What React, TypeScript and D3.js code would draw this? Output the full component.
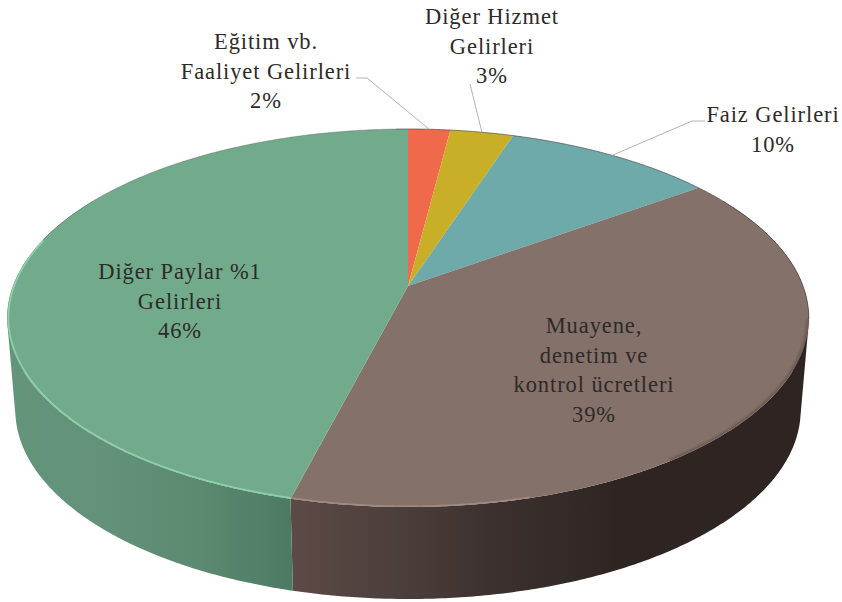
import React from "react";
import * as d3 from "d3";

const categories = ["Eğitim vb. Faaliyet Gelirleri", "Diğer Hizmet Gelirleri", "Faiz Gelirleri", "Muayene, denetim ve kontrol ücretleri", "Diğer Paylar %1 Gelirleri"];
const values = [2, 3, 10, 39, 46];
const topColors = ["#f0694a", "#c9af28", "#6daaa9", "#84716a", "#72ab8c"];
const labelLines = [
  ["Eğitim vb.", "Faaliyet Gelirleri", "2%"],
  ["Diğer Hizmet", "Gelirleri", "3%"],
  ["Faiz Gelirleri", "10%"],
  ["Muayene,", "denetim ve", "kontrol ücretleri", "39%"],
  ["Diğer Paylar %1", "Gelirleri", "46%"],
];
const labelAnchors: [number, number][] = [[266, 49], [492, 24], [773, 122], [594, 333], [180, 279]];
const leaderStarts: ([number, number][] | null)[] = [
  [[356, 78], [367, 78]],
  [[470, 84]],
  [[705, 121], [692, 121]],
  null,
  null,
];
const greenSideX = [10, 100, 200, 290];
const greenSideC = ["#62957a", "#64917a", "#5b8a70", "#4d7a63"];
const brownSideX = [290, 400, 500, 620, 810];
const brownSideC = ["#5c4a45", "#4c3e3b", "#3b302e", "#2e2523", "#2e2523"];

type Plane = { x: number; y: number; a: number; b: number };
const k = 0.1693;
const topPlane: Plane = { x: 408, y: 286, a: 395, b: 183.6 };
const botPlane: Plane = { x: 408, y: 378, a: 387, b: 183.6 };
const project = (p: Plane, t: number, r = 1): [number, number] => {
  const u = r * Math.sin(t);
  const v = r * Math.cos(t);
  const d = 1 + k * v;
  return [p.x + (p.a * u) / d, p.y - (p.b * v) / d];
};

const arcs = d3.pie<number>().sort(null).value((d) => d)(values);
const line = d3.line();
const STEP = Math.PI / 360;
const samples = (a: number, b: number) => {
  const n = Math.max(1, Math.ceil((b - a) / STEP));
  return d3.range(n + 1).map((i) => a + ((b - a) * i) / n);
};
const wedge = (a: number, b: number) => {
  const pts = samples(a, b).map((t) => project(topPlane, t));
  return line([[topPlane.x, topPlane.y], ...pts]) + "Z";
};
const deg = (d: number) => (d * Math.PI) / 180;

// The side wall of a wedge: the top arc swept down to the bottom arc, as one path of
// quads that all wind the same way, so that they add up under the nonzero fill rule.
const side = (a: number, b: number) => {
  const ts = samples(a, b);
  return ts.slice(0, -1).map((t, i) => {
    const t2 = ts[i + 1];
    const q: [number, number][] = [project(topPlane, t), project(topPlane, t2), project(botPlane, t2), project(botPlane, t)];
    return line(d3.polygonArea(q) < 0 ? q.reverse() : q) + "Z";
  }).join("");
};
const xAt = (xs: number[], i: number) => (xs[i] - xs[0]) / (xs[xs.length - 1] - xs[0]);

const brownEnd = arcs[3].endAngle;
const rim = (a: number, b: number) => line(samples(a, b).map((t) => project(topPlane, t, 0.997))) as string;
const outer = (a: number, b: number) => line(samples(a, b).map((t) => project(topPlane, t))) as string;

export default function App() {
  return (
    <svg width={842} height={602} viewBox="0 0 842 602" style={{ position: "absolute", left: 0, top: 0, background: "#fff" }}>
      <defs>
        <filter id="soft" x="-5%" y="-5%" width="110%" height="110%"><feGaussianBlur stdDeviation="1" /></filter>
        <linearGradient id="greenSide" gradientUnits="userSpaceOnUse" x1={greenSideX[0]} x2={greenSideX[greenSideX.length - 1]} y1={0} y2={0}>
          {greenSideX.map((_, i) => <stop key={i} offset={xAt(greenSideX, i)} stopColor={greenSideC[i]} />)}
        </linearGradient>
        <linearGradient id="brownSide" gradientUnits="userSpaceOnUse" x1={brownSideX[0]} x2={brownSideX[brownSideX.length - 1]} y1={0} y2={0}>
          {brownSideX.map((_, i) => <stop key={i} offset={xAt(brownSideX, i)} stopColor={brownSideC[i]} />)}
        </linearGradient>
      </defs>
      <path d={side(deg(60), brownEnd)} fill="url(#brownSide)" />
      <path d={side(brownEnd, deg(300))} fill="url(#greenSide)" />
      <g>
        {arcs.map((a, i) => (
          <path key={categories[i]} d={wedge(a.startAngle, a.endAngle)} fill={topColors[i]} />
        ))}
      </g>
      <path d={outer(deg(-2), deg(100))} fill="none" stroke="#3e3e3a" strokeOpacity={0.6} strokeWidth={1} />
      <path d={outer(deg(285), deg(358))} fill="none" stroke="#3e4a42" strokeOpacity={0.35} strokeWidth={1} />
      <path d={rim(deg(100), deg(145))} fill="none" stroke="#3a2e2b" strokeOpacity={0.45} strokeWidth={2} filter="url(#soft)" />
      <path d={rim(deg(165), deg(194.4))} fill="none" stroke="#a08c82" strokeWidth={1.4} />
      <path d={rim(deg(194.4), deg(285))} fill="none" stroke="#8fd0ab" strokeWidth={1.6} />
      <g fill="none" stroke="#b3b3b3" strokeWidth={1}>
        {arcs.map((a, i) => {
          const s = leaderStarts[i];
          if (!s) return null;
          const end = project(topPlane, (a.startAngle + a.endAngle) / 2);
          return <path key={i} d={line([...s, end]) as string} />;
        })}
      </g>
      <g fontFamily="'Liberation Serif', serif" fontSize={22.5} fill="#2e2a28" textAnchor="middle" letterSpacing={0.9}>
        {labelLines.map((lines, i) => (
          <text key={i}>
            {lines.map((l, j) => (
              <tspan key={j} x={labelAnchors[i][0]} y={labelAnchors[i][1] + j * 29.7}>{l}</tspan>
            ))}
          </text>
        ))}
      </g>
    </svg>
  );
}
